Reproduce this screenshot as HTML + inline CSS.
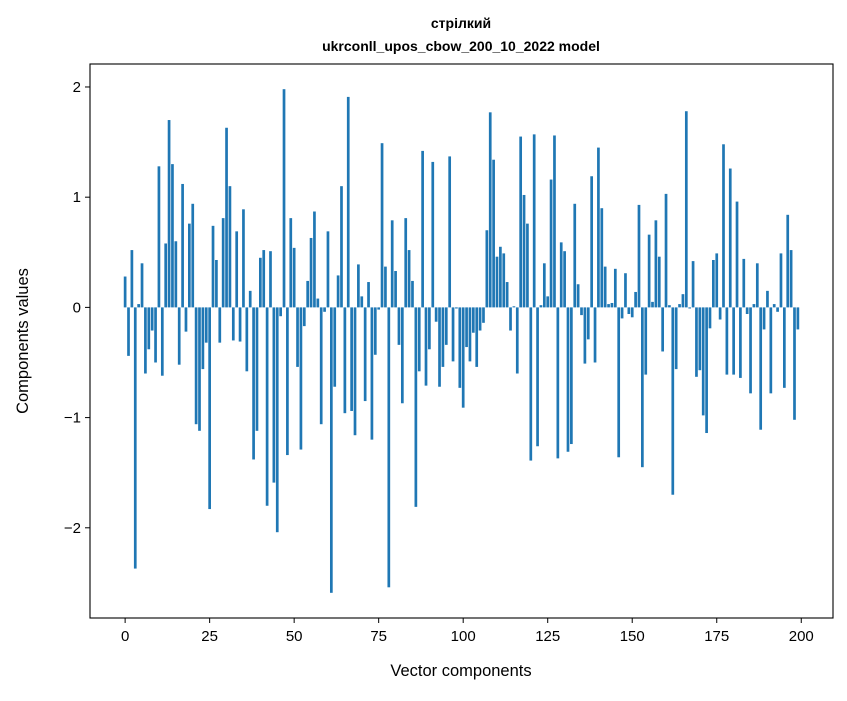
<!DOCTYPE html>
<html><head><meta charset="utf-8"><style>
body{margin:0;background:#fff;}
svg text{font-family:"Liberation Sans","DejaVu Sans",sans-serif;fill:#000;}
</style></head><body>
<svg id="chart" width="847" height="696" xmlns="http://www.w3.org/2000/svg">
<rect width="847" height="696" fill="#fff"/>
<text x="461" y="28" font-size="14" font-weight="bold" text-anchor="middle">стрілкий</text>
<text x="461" y="51" font-size="14" font-weight="bold" text-anchor="middle">ukrconll_upos_cbow_200_10_2022 model</text>
<g id="bars"></g>
<g id="xticks"></g>
<g id="yticks"></g>
<rect x="90" y="64" width="743" height="554" fill="none" stroke="#000" stroke-width="1.1"/>
<text x="461" y="676" font-size="16.5" text-anchor="middle">Vector components</text>
<text x="28" y="341" font-size="16.5" text-anchor="middle" transform="rotate(-90 28 341)">Components values</text>
</svg>
<script>
const values = [0.28,-0.44,0.52,-2.37,0.03,0.40,-0.60,-0.38,-0.21,-0.50,
1.28,-0.62,0.58,1.70,1.30,0.60,-0.52,1.12,-0.22,0.76,
0.94,-1.06,-1.12,-0.56,-0.32,-1.83,0.74,0.43,-0.32,0.81,
1.63,1.10,-0.30,0.69,-0.31,0.89,-0.58,0.15,-1.38,-1.12,
0.45,0.52,-1.80,0.51,-1.59,-2.04,-0.08,1.98,-1.34,0.81,
0.54,-0.54,-1.29,-0.17,0.24,0.63,0.87,0.08,-1.06,-0.04,
0.69,-2.59,-0.72,0.29,1.10,-0.96,1.91,-0.94,-1.16,0.39,
0.10,-0.85,0.23,-1.20,-0.43,-0.02,1.49,0.37,-2.54,0.79,
0.33,-0.34,-0.87,0.81,0.52,0.24,-1.81,-0.58,1.42,-0.71,
-0.38,1.32,-0.13,-0.72,-0.54,-0.34,1.37,-0.49,-0.01,-0.73,
-0.91,-0.36,-0.49,-0.23,-0.54,-0.21,-0.14,0.70,1.77,1.34,
0.46,0.55,0.49,0.23,-0.21,0.01,-0.60,1.55,1.02,0.76,
-1.39,1.57,-1.26,0.02,0.40,0.10,1.16,1.56,-1.37,0.59,
0.51,-1.31,-1.24,0.94,0.21,-0.07,-0.51,-0.29,1.19,-0.50,
1.45,0.90,0.37,0.03,0.04,0.35,-1.36,-0.10,0.31,-0.06,
-0.09,0.14,0.93,-1.45,-0.61,0.66,0.05,0.79,0.46,-0.40,
1.03,0.02,-1.70,-0.56,0.03,0.12,1.78,-0.01,0.42,-0.63,
-0.57,-0.98,-1.14,-0.19,0.43,0.49,-0.11,1.48,-0.61,1.26,
-0.61,0.96,-0.64,0.44,-0.06,-0.78,0.03,0.40,-1.11,-0.20,
0.15,-0.78,0.03,-0.04,0.49,-0.73,0.84,0.52,-1.02,-0.20];
const xTicks = [0,25,50,75,100,125,150,175,200];
const yTicks = [-2,-1,0,1,2];
const yTickLabels = ["\u22122","\u22121","0","1","2"];

const L=90,R=833,T=64,B=618;
const vmin=Math.min(...values,0), vmax=Math.max(...values,0);
const xpad=(values.length-0.2)*0.05;
const x0=-0.4-xpad, x1=values.length-1+0.4+xpad;
const ypad=(vmax-vmin)*0.05;
const y0=vmin-ypad, y1=vmax+ypad;
const xs=v=>L+(v-x0)/(x1-x0)*(R-L);
const ys=v=>B-(v-y0)/(y1-y0)*(B-T);
const NS="http://www.w3.org/2000/svg";
const bars=document.getElementById('bars');
values.forEach((v,i)=>{
  const r=document.createElementNS(NS,'rect');
  const a=xs(i-0.4), b=xs(i+0.4);
  r.setAttribute('x',a); r.setAttribute('width',b-a);
  r.setAttribute('y',Math.min(ys(v),ys(0))); r.setAttribute('height',Math.abs(ys(v)-ys(0)));
  r.setAttribute('fill','#1f77b4');
  
  
  bars.appendChild(r);
});
const xg=document.getElementById('xticks');
xTicks.forEach(t=>{
  const X=xs(t);
  const l=document.createElementNS(NS,'line');
  l.setAttribute('x1',X);l.setAttribute('x2',X);l.setAttribute('y1',B);l.setAttribute('y2',B+5);l.setAttribute('stroke','#000');
  
  
  xg.appendChild(l);
  const tx=document.createElementNS(NS,'text');
  tx.setAttribute('x',X);tx.setAttribute('y',B+23);tx.setAttribute('font-size','15');tx.setAttribute('text-anchor','middle');
  tx.textContent=t;
  
  
  xg.appendChild(tx);
});
const yg=document.getElementById('yticks');
yTicks.forEach((t,k)=>{
  const Y=ys(t);
  const l=document.createElementNS(NS,'line');
  l.setAttribute('x1',L-5);l.setAttribute('x2',L);l.setAttribute('y1',Y);l.setAttribute('y2',Y);l.setAttribute('stroke','#000');
  
  
  yg.appendChild(l);
  const tx=document.createElementNS(NS,'text');
  tx.setAttribute('x',L-9);tx.setAttribute('y',Y+5);tx.setAttribute('font-size','15');tx.setAttribute('text-anchor','end');
  tx.textContent=yTickLabels[k];
  
  
  yg.appendChild(tx);
});
</script>
</body></html>
